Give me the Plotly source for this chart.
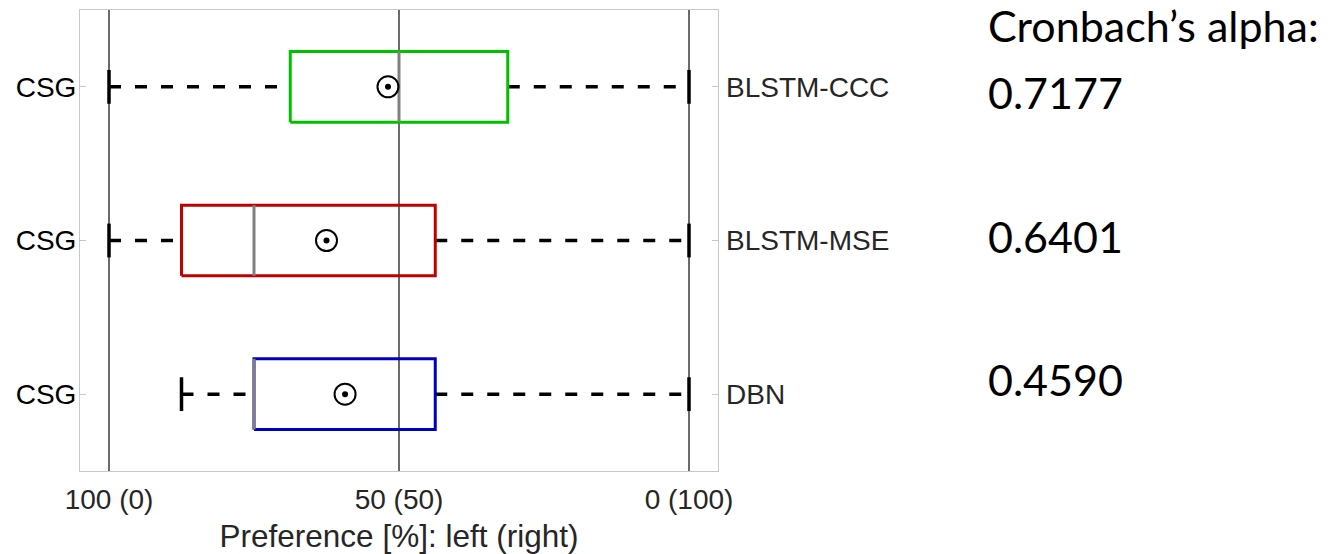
import plotly.graph_objects as go

# ---- data ----
left_labels = ["CSG", "CSG", "CSG"]
right_labels = ["BLSTM-CCC", "BLSTM-MSE", "DBN"]
positions = [2, 1, 0]
lower = [0.0, 0.0, 12.5]
q1 = [31.25, 12.5, 25.0]
median = [50.0, 25.0, 25.0]
q3 = [68.75, 56.25, 56.25]
upper = [100.0, 100.0, 100.0]
mean = [48.1, 37.5, 40.7]
box_colors = ["#00c000", "#c00000", "#0000c0"]
alpha_values = ["0.7177", "0.6401", "0.4590"]
x_tickvals = [0, 50, 100]
x_ticktext = ["100 (0)", "50 (50)", "0 (100)"]

BOX_H = 0.23
CAP_H = 0.11
SANS = "Liberation Sans, Arial, sans-serif"
TICK_FONT = dict(family=SANS, size=28, color="#262626")

fig = go.Figure()

for i, yc in enumerate(positions):
    # whiskers (dashed)
    for xs in ([lower[i], q1[i]], [q3[i], upper[i]]):
        fig.add_trace(go.Scatter(x=xs, y=[yc, yc], mode="lines",
                                 line=dict(color="black", width=3.5, dash="12px,14px"),
                                 hoverinfo="skip", showlegend=False))
    # whisker caps
    for xv in (lower[i], upper[i]):
        fig.add_trace(go.Scatter(x=[xv, xv], y=[yc - CAP_H, yc + CAP_H], mode="lines",
                                 line=dict(color="black", width=3.5),
                                 hoverinfo="skip", showlegend=False))
    # box
    fig.add_trace(go.Scatter(x=[q1[i], q3[i], q3[i], q1[i], q1[i]],
                             y=[yc - BOX_H, yc - BOX_H, yc + BOX_H, yc + BOX_H, yc - BOX_H],
                             mode="lines", line=dict(color=box_colors[i], width=3),
                             hoverinfo="skip", showlegend=False))
    # median
    fig.add_trace(go.Scatter(x=[median[i], median[i]], y=[yc - BOX_H, yc + BOX_H], mode="lines",
                             line=dict(color="#808080", width=3),
                             hoverinfo="skip", showlegend=False))

# means: open circle with a dot
fig.add_trace(go.Scatter(x=mean, y=positions, mode="markers",
                         marker=dict(symbol="circle-open", size=21, color="black", line=dict(width=2)),
                         showlegend=False))
fig.add_trace(go.Scatter(x=mean, y=positions, mode="markers",
                         marker=dict(symbol="circle", size=6, color="black"),
                         showlegend=False))
# invisible trace for right axis
fig.add_trace(go.Scatter(x=[mean[0]], y=[positions[0]], yaxis="y2", mode="markers",
                         marker=dict(opacity=0), hoverinfo="skip", showlegend=False))

fig.update_layout(
    width=1335, height=554,
    margin=dict(l=80, r=617, t=10, b=83, autoexpand=False),
    paper_bgcolor="white", plot_bgcolor="white",
    xaxis=dict(range=[-5, 105], tickvals=x_tickvals, ticktext=x_ticktext,
               showgrid=True, gridcolor="#6a6a6a", gridwidth=1.5, zeroline=False,
               showline=True, linecolor="#c8c8c8", linewidth=1, mirror=True,
               ticks="", tickfont=TICK_FONT, ticklabelstandoff=3,
               title=dict(text="Preference [%]: left (right)", standoff=12,
                          font=dict(family=SANS, size=31.5, color="#262626"))),
    yaxis=dict(range=[-0.5, 2.5], tickvals=positions, ticktext=left_labels,
               showgrid=False, zeroline=False,
               showline=True, linecolor="#c8c8c8", linewidth=1, mirror=True,
               ticks="inside", ticklen=6, tickcolor="#c8c8c8", ticklabelstandoff=-3,
               tickfont=dict(family=SANS, size=28, color="black")),
    yaxis2=dict(range=[-0.5, 2.5], tickvals=positions, ticktext=right_labels,
                overlaying="y", side="right", showgrid=False, zeroline=False, showline=False,
                ticks="inside", ticklen=6, tickcolor="#c8c8c8", tickfont=TICK_FONT,
                ticklabelstandoff=7),
)

# Cronbach's alpha annotations
ann_font = dict(family="Lato, Open Sans, sans-serif", size=43, color="black")
x_ann = (986 - 80) / 638
def py(px):
    return (471 - px) / 461.5

fig.add_annotation(text="Cronbach’s alpha:", xref="paper", yref="paper", x=x_ann, y=py(25),
                   xanchor="left", yanchor="middle", showarrow=False, font=ann_font)
alpha_px = [92, 236, 379]
for val, p in zip(alpha_values, alpha_px):
    fig.add_annotation(text=val, xref="paper", yref="paper", x=x_ann, y=py(p),
                       xanchor="left", yanchor="middle", showarrow=False, font=ann_font)

fig.write_html("out.html", config={"displayModeBar": False},
               post_script="document.body.style.margin='0px';")
